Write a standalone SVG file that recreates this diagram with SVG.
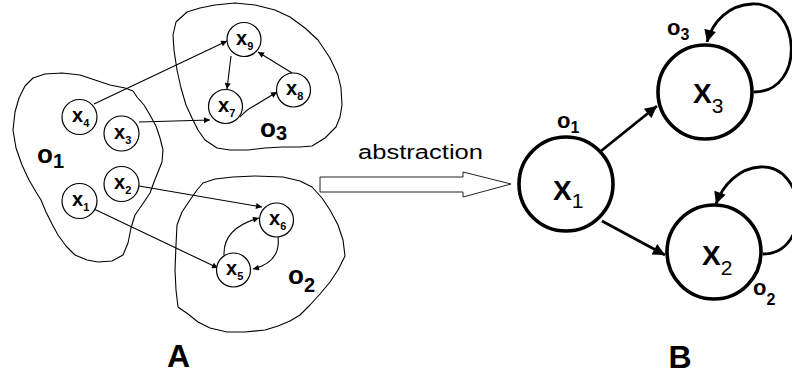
<svg xmlns="http://www.w3.org/2000/svg" width="792" height="378" viewBox="0 0 792 378">
<style>
text{font-family:"Liberation Sans",Arial,sans-serif;fill:#000}
.blob{fill:none;stroke:#000;stroke-width:1.1;stroke-linejoin:round}
.sn{fill:#fff;stroke:#000;stroke-width:1.2}
.sl{font-size:20px;font-weight:bold}
.ss{font-size:11px;font-weight:bold}
.bn{fill:#fff;stroke:#000;stroke-width:3.6}
.bl{font-size:28px;font-weight:bold}
.bs{font-size:21px;font-weight:normal}
.ol{font-weight:bold}
.e{fill:none;stroke:#000;stroke-width:1.1}
.E{fill:none;stroke:#000;stroke-width:2.8}
.big{font-size:32px;font-weight:bold}
</style>
<defs>
<marker id="sa" viewBox="0 0 10 10" refX="10" refY="5" markerWidth="9" markerHeight="6" orient="auto" markerUnits="userSpaceOnUse"><path d="M0,0 L10,5 L0,10 z" fill="#000"/></marker>
<marker id="ba" viewBox="0 0 10 10" refX="10" refY="5" markerWidth="15" markerHeight="12" orient="auto" markerUnits="userSpaceOnUse"><path d="M0,0 L10,5 L0,10 z" fill="#000"/></marker>
</defs>

<!-- regions (blobs) -->
<g id="region-o1">
<path class="blob" d="M33,78 L45,74 L62,73 L80,75 L95,80 L110,85 L125,88 L133,91 L137,97 L144,105 L150,115 L156,126 L160,138 L163,150 L162,162 L158,172 L154,182 L150,193 L142,205 L135,215 L131,228 L128,243 L123,255 L112,261 L98,262 L87,260 L75,255 L66,246 L58,235 L52,224 L46,212 L41,200 L36,192 L29,180 L22,165 L16,148 L13,130 L15,112 L19,98 L25,86 Z"/>
<text x="37" y="163" class="ol" font-size="26">o<tspan font-size="20" dy="5">1</tspan></text>
</g>
<g id="region-o3">
<path class="blob" d="M187,12 L200,8 L215,5 L235,3 L255,5 L275,10 L290,17 L305,28 L318,40 L330,58 L338,75 L341,88 L342,105 L340,117 L336,127 L325,138 L312,146 L300,147 L283,147 L265,148 L248,150 L230,150 L217,148 L205,140 L198,130 L192,118 L186,105 L181,88 L177,70 L174,50 L173,35 L176,22 Z"/>
<text x="260" y="137" class="ol" font-size="26">o<tspan font-size="20" dy="3">3</tspan></text>
</g>
<g id="region-o2">
<path class="blob" d="M203,183 L215,179 L233,177 L255,176 L283,177 L300,181 L312,187 L322,198 L330,210 L338,225 L343,240 L345,256 L338,270 L330,282 L320,294 L310,305 L300,315 L290,321 L278,326 L265,330 L245,332 L227,332 L210,328 L198,322 L188,314 L178,307 L176,290 L175,270 L176,245 L177,225 L182,212 L190,200 L197,190 Z"/>
<text x="288" y="284" class="ol" font-size="26">o<tspan font-size="20" dy="8">2</tspan></text>
</g>

<!-- connectors -->
<g id="connectors">
<line class="e" x1="94" y1="104" x2="227" y2="41" marker-end="url(#sa)"/>
<line class="e" x1="139" y1="122" x2="210" y2="120" marker-end="url(#sa)"/>
<line class="e" x1="231" y1="56" x2="227" y2="89" marker-end="url(#sa)"/>
<path class="e" d="M240,117 Q246,110 254,106 L277,92" marker-end="url(#sa)"/>
<line class="e" x1="292" y1="73" x2="258" y2="52" marker-end="url(#sa)"/>
<line class="e" x1="139" y1="186" x2="262" y2="207" marker-end="url(#sa)"/>
<line class="e" x1="94" y1="209" x2="218" y2="268" marker-end="url(#sa)"/>
<path class="e" d="M224,255 Q223,228 259,218" marker-end="url(#sa)"/>
<path class="e" d="M278,237 Q281,262 253,269" marker-end="url(#sa)"/>

<path d="M320,177 L463,177 L463,172 L511,184 L463,197 L463,192 L320,192 Z" fill="#fff" stroke="#222" stroke-width="1"/>

<line class="E" x1="601" y1="151" x2="657" y2="106" marker-end="url(#ba)"/>
<line class="E" x1="602" y1="221" x2="665" y2="255" marker-end="url(#ba)"/>
<path class="E" d="M754,92 C806,92 802,2 752,4 C730,5 713,20 707,42" marker-end="url(#ba)"/>
<path class="E" d="M763,254 C812,254 808,164 760,167 C740,168 723,184 716,204" marker-end="url(#ba)"/>
</g>

<text x="358" y="159" font-size="20" textLength="125" lengthAdjust="spacingAndGlyphs">abstraction</text>

<!-- small nodes -->
<g id="x4"><circle class="sn" cx="79.5" cy="117" r="17.5"/><text x="72" y="122" class="sl">x<tspan class="ss" dy="5">4</tspan></text></g>
<g id="x3"><circle class="sn" cx="121.5" cy="133.5" r="17.5"/><text x="114" y="139" class="sl">x<tspan class="ss" dy="5">3</tspan></text></g>
<g id="x2"><circle class="sn" cx="121.5" cy="184" r="17.5"/><text x="114" y="189" class="sl">x<tspan class="ss" dy="5">2</tspan></text></g>
<g id="x1"><circle class="sn" cx="79.5" cy="201" r="17.5"/><text x="72" y="206" class="sl">x<tspan class="ss" dy="5">1</tspan></text></g>
<g id="x9"><circle class="sn" cx="244" cy="39.5" r="17"/><text x="236" y="45" class="sl">x<tspan class="ss" dy="5">9</tspan></text></g>
<g id="x7"><circle class="sn" cx="225.5" cy="106.5" r="17"/><text x="218" y="112" class="sl">x<tspan class="ss" dy="5">7</tspan></text></g>
<g id="x8"><circle class="sn" cx="293.5" cy="90" r="17"/><text x="286" y="95" class="sl">x<tspan class="ss" dy="5">8</tspan></text></g>
<g id="x6"><circle class="sn" cx="276.5" cy="220" r="17"/><text x="269" y="225" class="sl">x<tspan class="ss" dy="5">6</tspan></text></g>
<g id="x5"><circle class="sn" cx="233.5" cy="270" r="17"/><text x="226" y="275" class="sl">x<tspan class="ss" dy="5">5</tspan></text></g>

<!-- big nodes -->
<g id="X1"><circle class="bn" cx="566" cy="184" r="47"/><text x="553" y="200" class="bl">X<tspan class="bs" dy="8">1</tspan></text><text x="557" y="128" class="ol" font-size="22">o<tspan font-size="16" dy="5">1</tspan></text></g>
<g id="X3"><circle class="bn" cx="705" cy="92" r="47"/><text x="693" y="103" class="bl">X<tspan class="bs" dy="10">3</tspan></text><text x="667" y="35" class="ol" font-size="22">o<tspan font-size="16" dy="5">3</tspan></text></g>
<g id="X2"><circle class="bn" cx="714" cy="252" r="47"/><text x="702" y="265" class="bl">X<tspan class="bs" dy="10">2</tspan></text><text x="753" y="295" class="ol" font-size="22">o<tspan font-size="16" dy="10">2</tspan></text></g>

<text x="178.5" y="367" class="big" text-anchor="middle">A</text>
<text x="680" y="368" class="big" text-anchor="middle">B</text>
</svg>
